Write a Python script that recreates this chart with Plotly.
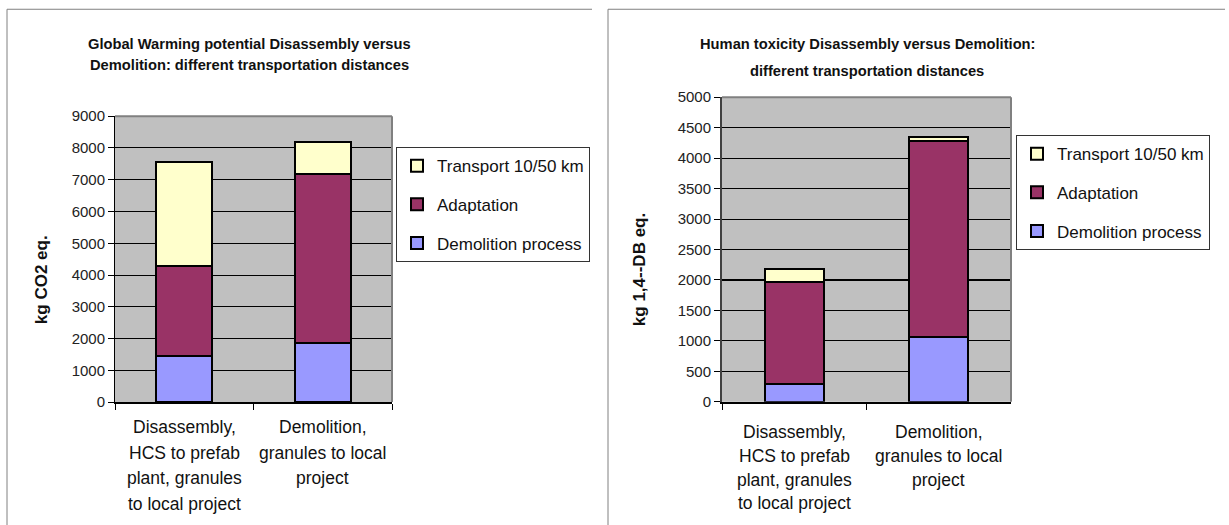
import plotly.graph_objects as go

# ---- data -------------------------------------------------------------
categories = ["Disassembly", "Demolition"]
category_lines = [
    ["Disassembly,", "HCS to prefab", "plant, granules", "to local project"],
    ["Demolition,", "granules to local", "project"],
]
series_names = ["Demolition process", "Adaptation", "Transport 10/50 km"]
series_colors = ["#9999FF", "#993366", "#FFFFCC"]
legend_ranks = [3, 2, 1]

# Global warming potential (kg CO2 eq.)
gwp_demolition = [1450, 1850]
gwp_adaptation = [2830, 5330]
gwp_transport = [3270, 1000]

# Human toxicity (kg 1,4-DB eq.)
htp_demolition = [290, 1070]
htp_adaptation = [1680, 3210]
htp_transport = [210, 60]

gwp_ticks = list(range(0, 9001, 1000))
htp_ticks = list(range(0, 5001, 500))

# ---- layout helpers ---------------------------------------------------
W, H = 1229, 534
TOP = 8       # page offset of the figure
K = 0.9685    # vertical page-to-screen factor


def fx(p):
    return p / W


def fy(p):
    return 1 - (p / K - TOP) / H


FONT = "Liberation Sans, Arial, sans-serif"

fig = go.Figure()

gwp_series = [gwp_demolition, gwp_adaptation, gwp_transport]
htp_series = [htp_demolition, htp_adaptation, htp_transport]

for name, color, rank, vals in zip(series_names, series_colors, legend_ranks, gwp_series):
    fig.add_trace(go.Bar(
        x=categories, y=vals, name=name, xaxis="x", yaxis="y",
        marker=dict(color=color, line=dict(color="black", width=2)),
        legend="legend", legendgroup="g_" + name, legendrank=rank,
    ))

for name, color, rank, vals in zip(series_names, series_colors, legend_ranks, htp_series):
    fig.add_trace(go.Bar(
        x=categories, y=vals, name=name, xaxis="x2", yaxis="y2",
        marker=dict(color=color, line=dict(color="black", width=2)),
        legend="legend2", legendgroup="h_" + name, legendrank=rank,
    ))

xaxis_style = dict(
    type="category", showline=True, linecolor="black", linewidth=2,
    ticks="outside", tickson="boundaries", ticklen=6, tickcolor="black",
    showticklabels=False, showgrid=False, zeroline=False, fixedrange=True,
)
yaxis_style = dict(
    showline=True, linecolor="black", linewidth=1,
    ticks="outside", ticklen=6, tickcolor="black",
    showgrid=True, gridcolor="black", gridwidth=1, zeroline=False,
    tickfont=dict(family=FONT, size=15, color="#222"),
)

legend_style = dict(
    xanchor="left", yanchor="top", xref="paper", yref="paper",
    bgcolor="white", bordercolor="#333", borderwidth=1,
    font=dict(family=FONT, size=17, color="#111"),
    traceorder="grouped", tracegroupgap=13.5,
)

fig.update_layout(
    width=W, height=H,
    margin=dict(l=0, r=0, t=0, b=0),
    paper_bgcolor="white", plot_bgcolor="#C0C0C0",
    barmode="stack", bargap=0.595,
    font=dict(family=FONT, color="#111"),
    xaxis=dict(domain=[fx(115), fx(392)], anchor="y", **xaxis_style),
    yaxis=dict(domain=[fy(401), fy(115)], anchor="x", range=[0, 9000],
               tickvals=gwp_ticks, **yaxis_style),
    xaxis2=dict(domain=[fx(722), fx(1011)], anchor="y2", **xaxis_style),
    yaxis2=dict(domain=[fy(400.7), fy(96)], anchor="x2", range=[0, 5000],
                tickvals=htp_ticks, **yaxis_style),
    legend=dict(x=fx(396), y=fy(146), **legend_style),
    legend2=dict(x=fx(1016), y=fy(134), **legend_style),
    showlegend=True,
)
fig.update_layout(yaxis2=dict(linecolor="#404040", linewidth=2))

shapes = []
# chart frames
for x0, x1 in [(7, 592), (608, 1225)]:
    shapes.append(dict(type="line", xref="paper", yref="paper",
                       x0=fx(x0), x1=fx(x1), y0=fy(8), y1=fy(8),
                       line=dict(color="#808080", width=1)))
    shapes.append(dict(type="line", xref="paper", yref="paper",
                       x0=fx(x0), x1=fx(x0), y0=fy(8), y1=0,
                       line=dict(color="#808080", width=1)))
# plot area border (top and right)
for xa, ya in [("x", "y"), ("x2", "y2")]:
    shapes.append(dict(type="line", xref=xa + " domain", yref=ya + " domain",
                       x0=0, x1=1, y0=1, y1=1,
                       line=dict(color="#808080", width=2)))
    shapes.append(dict(type="line", xref=xa + " domain", yref=ya + " domain",
                       x0=1, x1=1, y0=0, y1=1,
                       line=dict(color="#808080", width=2)))
# heavier gridline at 2000 in the toxicity chart
shapes.append(dict(type="line", xref="x2 domain", yref="y2", x0=0, x1=1,
                   y0=2000, y1=2000, layer="below",
                   line=dict(color="black", width=2)))
fig.update_layout(shapes=shapes)

annotations = []
# titles
title_lines = [
    ("Global Warming potential Disassembly versus", 249, 43),
    ("Demolition: different transportation distances", 249, 64),
    ("Human toxicity Disassembly versus Demolition:", 867, 43),
    ("different transportation distances", 867, 70),
]
for text, cx, cy in title_lines:
    annotations.append(dict(text="<b>" + text + "</b>", xref="paper", yref="paper",
                            x=fx(cx), y=fy(cy), xanchor="center", yanchor="middle",
                            showarrow=False,
                            font=dict(family=FONT, size=14.7, color="#111")))

# axis titles
annotations.append(dict(text="<b>kg CO2 eq.</b>", xref="paper", yref="paper",
                        x=fx(41), y=fy(279), textangle=-90, showarrow=False,
                        xanchor="center", yanchor="middle",
                        font=dict(family=FONT, size=17, color="#111")))
annotations.append(dict(text="<b>kg 1,4--DB eq.</b>", xref="paper", yref="paper",
                        x=fx(639), y=fy(269), textangle=-90, showarrow=False,
                        xanchor="center", yanchor="middle",
                        font=dict(family=FONT, size=17, color="#111")))

# multi-line category labels
line_rows = {"x": [426, 451.5, 477, 502.5], "x2": [431, 455, 478.5, 502]}
for xa, rows in line_rows.items():
    for cat, lines in zip(categories, category_lines):
        for line, py in zip(lines, rows):
            annotations.append(dict(text=line, xref=xa, yref="paper",
                                    x=cat, y=fy(py), xanchor="center",
                                    yanchor="middle", showarrow=False,
                                    font=dict(family=FONT, size=17.5, color="#111")))

fig.update_layout(annotations=annotations)

fig.write_html("out.html")
